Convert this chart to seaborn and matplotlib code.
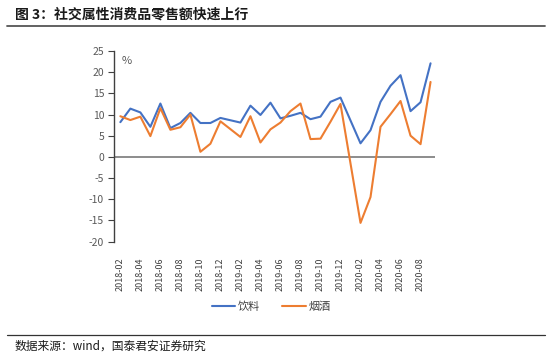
import numpy as np
import pandas as pd
import matplotlib.pyplot as plt
import seaborn as sns
from matplotlib.lines import Line2D

# monthly data, January has no separate release (left empty, line connects over it)
months = ['2018-02', '2018-03', '2018-04', '2018-05', '2018-06', '2018-07', '2018-08',
          '2018-09', '2018-10', '2018-11', '2018-12', '2019-01', '2019-02', '2019-03',
          '2019-04', '2019-05', '2019-06', '2019-07', '2019-08', '2019-09', '2019-10',
          '2019-11', '2019-12', '2020-01', '2020-02', '2020-03', '2020-04', '2020-05',
          '2020-06', '2020-07', '2020-08', '2020-09']
drinks = [8.2, 11.4, 10.5, 7.1, 12.6, 6.8, 8.0, 10.4, 8.0, 8.0, 9.2, None,
          8.1, 12.1, 9.9, 12.8, 9.1, 9.7, 10.4, 8.9, 9.5, 13.0, 14.0, None,
          3.2, 6.3, 13.0, 16.8, 19.3, 10.8, 12.9, 22.1]
tobacco = [9.6, 8.7, 9.5, 4.9, 11.5, 6.4, 7.0, 10.0, 1.2, 3.1, 8.4, None,
           4.7, 9.6, 3.4, 6.5, 8.1, 10.8, 12.6, 4.2, 4.3, 8.3, 12.5, None,
           -15.6, -9.5, 7.1, 10.1, 13.2, 5.0, 3.0, 17.7]
series_names = ['饮料', '烟酒']
colors = {'饮料': '#4472C4', '烟酒': '#ED7D31'}

df = pd.DataFrame({'month': months, '饮料': drinks, '烟酒': tobacco})
df['pos'] = np.arange(len(months))
long = df.melt(id_vars=['month', 'pos'], value_vars=series_names,
               var_name='series', value_name='value').dropna()

sns.set_style('white')
plt.rcParams['font.family'] = ['Noto Sans CJK SC', 'DejaVu Sans']
plt.rcParams['axes.unicode_minus'] = False

fig = plt.figure(figsize=(5.5, 3.57), dpi=100)
ax = fig.add_axes([0.207, 0.3235, 0.584, 0.5335])

sns.lineplot(data=long, x='pos', y='value', hue='series', hue_order=series_names,
             palette=colors, linewidth=1.5, ax=ax)

ax.axhline(0, color='#6e6e6e', linewidth=1.1, zorder=1)
ax.set_xlim(-0.65, 31.45)
ax.set_ylim(-20, 25)
ax.set_yticks(range(-20, 30, 5))
ax.set_xticks(df['pos'][::2])
ax.set_xticklabels(months[::2], rotation=90)
ax.set_xlabel('')
ax.set_ylabel('')

for s in ['top', 'right', 'bottom']:
    ax.spines[s].set_visible(False)
ax.spines['left'].set_color('#404040')
ax.spines['left'].set_linewidth(1.0)
ax.tick_params(axis='y', which='major', left=True, length=4, width=0.8,
               color='#404040', labelsize=7.5, labelcolor='#595959', pad=3)
ax.tick_params(axis='x', which='major', bottom=False, labelsize=6.5,
               labelcolor='#404040', pad=8)
ax.text(0.025, 0.975, '%', transform=ax.transAxes, fontsize=8, color='#595959',
        va='top', ha='left')

sns.move_legend(ax, 'center', bbox_to_anchor=(0.49, -0.34), ncol=2, frameon=False,
                title=None, fontsize=8, handlelength=2.1, handletextpad=0.25,
                columnspacing=2.0)
for t in ax.get_legend().get_texts():
    t.set_color('#404040')

fig.text(0.027, 1 - 15 / 357, '图 3：社交属性消费品零售额快速上行', fontsize=10,
         fontweight='bold', va='center', ha='left', color='#1a1a1a')
fig.add_artist(Line2D([0.012, 0.99], [1 - 26 / 357] * 2, transform=fig.transFigure,
                      color='#555555', linewidth=1.3))
fig.add_artist(Line2D([0.012, 0.99], [1 - 335 / 357] * 2, transform=fig.transFigure,
                      color='#333333', linewidth=0.9))
fig.text(0.027, 1 - 346 / 357, '数据来源：wind，国泰君安证券研究', fontsize=8.5,
         va='center', ha='left', color='#1a1a1a')

fig.savefig('out.png', dpi=100)
